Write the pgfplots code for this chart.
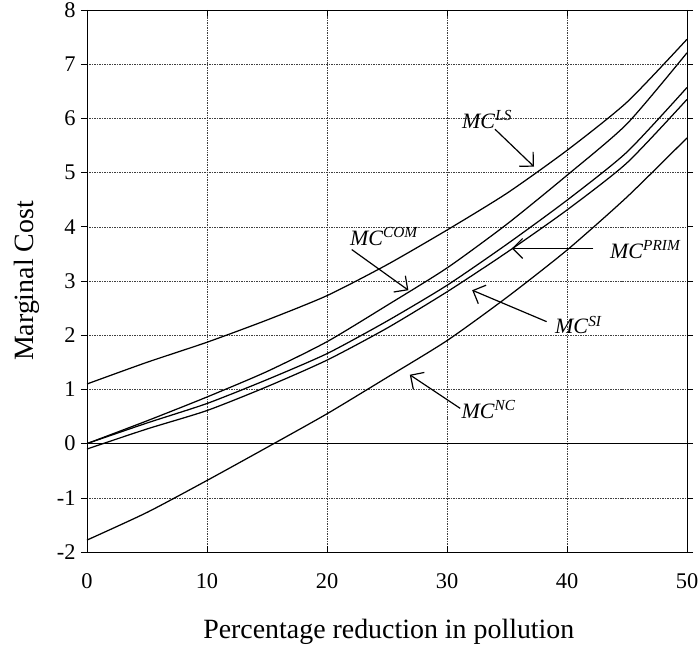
\documentclass[border=0pt]{standalone}
\usepackage{pgfplots}
\pgfplotsset{compat=1.18}
\usepackage{fontspec}
\setmainfont{Liberation Serif}
\usetikzlibrary{arrows.meta}
\newcommand{\mc}[1]{\textit{MC}\textsuperscript{\textit{#1}}}
\begin{document}
\begin{tikzpicture}
\useasboundingbox (-87bp,-93bp) rectangle (611bp,552bp);
\begin{axis}[
  at={(0,0)}, anchor=south west,
  scale only axis, width=600bp, height=542bp,
  xmin=0, xmax=50, ymin=-2, ymax=8,
  xtick={0,10,...,50}, ytick={-2,-1,...,8},
  grid=major,
  major grid style={black!75, dash pattern=on 1.5pt off 1pt, line width=0.5pt},
  axis line style={black, line width=0.9pt},
  y tick style={black, line width=0.6pt}, major tick length=6bp,
  ytick align=outside, xtick align=inside,
  x tick style={black, line width=0.5pt},
  tick label style={font=\fontsize{22.5}{26}\selectfont},
  /pgf/number format/assume math mode=true,
  xticklabel style={yshift=-18bp},
  yticklabel style={xshift=-2bp},
  xlabel={Percentage reduction in pollution},
  ylabel={Marginal Cost},
  label style={font=\fontsize{28}{32}\selectfont},
  xlabel style={at={(axis description cs:0.503,-0.1587)}, anchor=base},
  ylabel style={at={(axis description cs:-0.1,0.5)}, anchor=center, rotate=0},
  clip=false,
]
\addplot[black, line width=0.6pt] coordinates {(0,0) (50,0)};
% LS
\addplot[black, line width=1.25pt, smooth, tension=0.4] coordinates {
(0,1.10) (5,1.50) (10,1.87) (15,2.28) (20,2.73) (25,3.30) (30,3.94) (35,4.62) (40,5.41) (45,6.30) (50,7.46)};
% COM
\addplot[black, line width=1.25pt, smooth, tension=0.4] coordinates {
(0,0.00) (5,0.42) (10,0.86) (15,1.33) (20,1.88) (25,2.55) (30,3.24) (35,4.05) (40,4.95) (45,5.90) (50,7.21)};
% PRIM
\addplot[black, line width=1.25pt, smooth, tension=0.4] coordinates {
(0,0.00) (5,0.38) (10,0.74) (15,1.18) (20,1.66) (25,2.26) (30,2.92) (35,3.68) (40,4.49) (45,5.38) (50,6.57)};
% SI
\addplot[black, line width=1.25pt, smooth, tension=0.4] coordinates {
(0,-0.10) (5,0.27) (10,0.61) (15,1.05) (20,1.54) (25,2.13) (30,2.80) (35,3.53) (40,4.31) (45,5.18) (50,6.35)};
% NC
\addplot[black, line width=1.25pt, smooth, tension=0.4] coordinates {
(0,-1.78) (5,-1.27) (10,-0.68) (15,-0.07) (20,0.55) (25,1.22) (30,1.90) (35,2.70) (40,3.57) (45,4.55) (50,5.64)};

\begin{scope}[every node/.style={font=\fontsize{22}{26}\selectfont, inner sep=0pt}]
\node[anchor=base west] at (axis cs:31.25,5.82) {\mc{LS}};
\node[anchor=base west] at (axis cs:21.9,3.66) {\mc{COM}};
\node[anchor=base west] at (axis cs:43.58,3.42) {\mc{PRIM}};
\node[anchor=base west] at (axis cs:39.0,2.03) {\mc{SI}};
\node[anchor=base west] at (axis cs:31.2,0.47) {\mc{NC}};
\end{scope}
\begin{scope}[line width=1.2pt, -{Straight Barb[length=10bp,width=20bp,line width=1.2pt]}]
\draw (axis cs:34.0,5.80) -- (axis cs:37.25,5.11);
\draw (axis cs:22.06,3.58) -- (axis cs:26.78,2.83);
\draw (axis cs:42.2,3.60) -- (axis cs:35.4,3.60);
\draw (axis cs:38.3,2.25) -- (axis cs:32.1,2.83);
\draw (axis cs:31.1,0.65) -- (axis cs:26.9,1.27);
\end{scope}
\end{axis}
\end{tikzpicture}
\end{document}
